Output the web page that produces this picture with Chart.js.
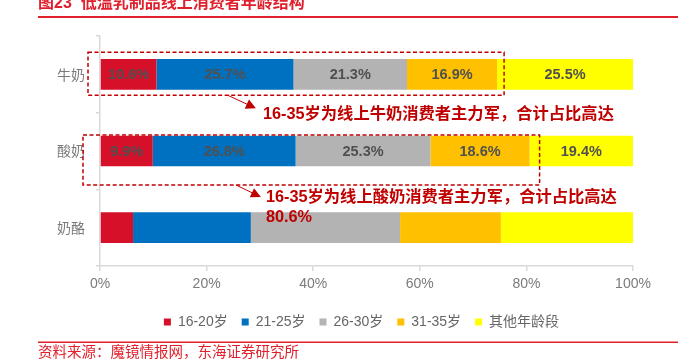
<!DOCTYPE html>
<html><head><meta charset="utf-8">
<script src="https://cdn.jsdelivr.net/npm/chart.js@4"></script>
<style>html,body{margin:0;padding:0;background:#fff}#wrap{width:693px;height:364px;position:relative}</style>
</head><body><div id="wrap"><canvas id="c" width="693" height="364"></canvas></div>
<script>
const categories = ['牛奶', '酸奶', '奶酪'];
const seriesNames = ['16-20岁', '21-25岁', '26-30岁', '31-35岁', '其他年龄段'];
const s1620 = [10.6, 9.9, 6.2];
const s2125 = [25.7, 26.8, 22.1];
const s2630 = [21.3, 25.3, 28.0];
const s3135 = [16.9, 18.6, 18.9];
const sOther = [25.5, 19.4, 24.8];
const showLabels = [true, true, false];
const xTicks = [0, 20, 40, 60, 80, 100];
const titleText = '图23  低温乳制品线上消费者年龄结构';
const sourceText = '资料来源：魔镜情报网，东海证券研究所';
const note1 = '16-35岁为线上牛奶消费者主力军，合计占比高达';
const note2 = '16-35岁为线上酸奶消费者主力军，合计占比高达';
const note2Value = '80.6%';

const colors = ['#D7102A', '#0070C0', '#B3B3B3', '#FFC000', '#FFFF00'];
const allSeries = [s1620, s2125, s2630, s3135, sOther];
const RED = '#E0202D';
const DARKRED = '#C00000';
const LATIN = '"Liberation Sans", Arial, "Noto Sans CJK SC", sans-serif';
const AXISGRAY = '#7A7A7A';

const extras = {
  id: 'extras',
  afterLayout(chart) {
    if (chart.legend) { chart.legend.left = chart.chartArea.left - 10; }
  },
  afterDatasetsDraw(chart) {
    const ctx = chart.ctx;
    const xs = chart.scales.x, ys = chart.scales.y;
    // data labels
    ctx.save();
    ctx.font = 'bold 14.5px ' + LATIN;
    ctx.fillStyle = '#505050';
    ctx.textAlign = 'center';
    ctx.textBaseline = 'middle';
    chart.data.datasets.forEach((ds, di) => {
      const meta = chart.getDatasetMeta(di);
      meta.data.forEach((el, i) => {
        if (!showLabels[i]) return;
        const cx = (el.x + el.base) / 2;
        ctx.fillText(ds.data[i].toFixed(1) + '%', cx, el.y + 1);
      });
    });
    ctx.restore();

    // annotations
    const sum4 = i => s1620[i] + s2125[i] + s2630[i] + s3135[i];
    const y0 = ys.getPixelForValue(0), y1 = ys.getPixelForValue(1);
    ctx.save();
    ctx.strokeStyle = DARKRED;
    ctx.lineWidth = 1.5;
    ctx.setLineDash([4, 2.5]);
    const r1 = {l: xs.left - 12, r: xs.getPixelForValue(sum4(0)) + 7, t: y0 - 22, b: y0 + 21};
    const r2 = {l: xs.left - 17, r: xs.getPixelForValue(sum4(1)) + 10, t: y1 - 16, b: y1 + 34};
    [r1, r2].forEach(r => ctx.strokeRect(r.l, r.t, r.r - r.l, r.b - r.t));
    ctx.setLineDash([]);
    function arrow(x1, yy1, x2, yy2) {
      ctx.beginPath(); ctx.moveTo(x1, yy1);
      const ang = Math.atan2(yy2 - yy1, x2 - x1);
      const hl = 10;
      ctx.lineTo(x2 - hl * 0.8 * Math.cos(ang), yy2 - hl * 0.8 * Math.sin(ang));
      ctx.lineWidth = 1; ctx.stroke();
      ctx.beginPath();
      ctx.moveTo(x2, yy2);
      ctx.lineTo(x2 - hl * Math.cos(ang) + 5 * Math.sin(ang), yy2 - hl * Math.sin(ang) - 5 * Math.cos(ang));
      ctx.lineTo(x2 - hl * Math.cos(ang) - 5 * Math.sin(ang), yy2 - hl * Math.sin(ang) + 5 * Math.cos(ang));
      ctx.closePath(); ctx.fillStyle = DARKRED; ctx.fill();
    }
    const ax1 = xs.getPixelForValue(24);
    arrow(ax1, r1.b, ax1 + 28, r1.b + 13);
    const ax2 = xs.getPixelForValue(25.5);
    arrow(ax2, r2.b, ax2 + 25, r2.b + 12);
    ctx.fillStyle = DARKRED;
    ctx.textAlign = 'left';
    ctx.textBaseline = 'middle';
    ctx.font = 'bold 16.3px ' + LATIN;
    ctx.fillText(note1, ax1 + 35, r1.b + 19);
    ctx.fillText(note2, ax2 + 30, r2.b + 13);
    ctx.fillText(note2Value, ax2 + 30, r2.b + 33);
    ctx.restore();
  },
  afterDraw(chart) {
    const ctx = chart.ctx;
    ctx.save();
    ctx.fillStyle = RED;
    ctx.textAlign = 'left';
    ctx.textBaseline = 'middle';
    ctx.font = 'bold 16px ' + LATIN;
    ctx.fillText(titleText, 38, 4);
    ctx.fillRect(38, 16, 640, 2);
    ctx.fillRect(38, 341.5, 640, 1.5);
    ctx.font = '14.5px ' + LATIN;
    ctx.fillText(sourceText, 38, 353);
    ctx.restore();
  }
};

new Chart(document.getElementById('c'), {
  type: 'bar',
  data: {
    labels: categories,
    datasets: seriesNames.map((n, i) => ({
      label: n,
      data: allSeries[i],
      backgroundColor: colors[i],
      borderWidth: 0,
      categoryPercentage: 1,
      barPercentage: 0.4
    }))
  },
  options: {
    indexAxis: 'y',
    responsive: false,
    animation: false,
    layout: {padding: {top: 36, right: 60, bottom: 25, left: 0}},
    plugins: {
      legend: {
        position: 'bottom',
        labels: {
          boxWidth: 7, boxHeight: 7, padding: 14,
          color: '#666666',
          font: {size: 14, family: LATIN}
        }
      },
      tooltip: {enabled: false}
    },
    scales: {
      x: {
        stacked: true, min: 0, max: 100,
        afterBuildTicks: s => { s.ticks = xTicks.map(v => ({value: v})); },
        afterFit: s => { s.height = 35; },
        border: {color: '#D9D9D9', width: 1.5},
        grid: {drawOnChartArea: false, color: '#D9D9D9', tickLength: 5, lineWidth: 1.5},
        ticks: {color: AXISGRAY, padding: 5, font: {size: 14, family: LATIN}, callback: v => v + '%'}
      },
      y: {
        stacked: true,
        afterFit: s => { s.width = 100; },
        border: {color: '#D9D9D9', width: 1.5},
        grid: {drawOnChartArea: false, offset: true, color: '#D9D9D9', tickLength: 4, lineWidth: 1.5},
        ticks: {color: AXISGRAY, padding: 11, font: {size: 14, family: '"Noto Sans CJK SC", sans-serif'}}
      }
    }
  },
  plugins: [extras]
});
</script></body></html>
